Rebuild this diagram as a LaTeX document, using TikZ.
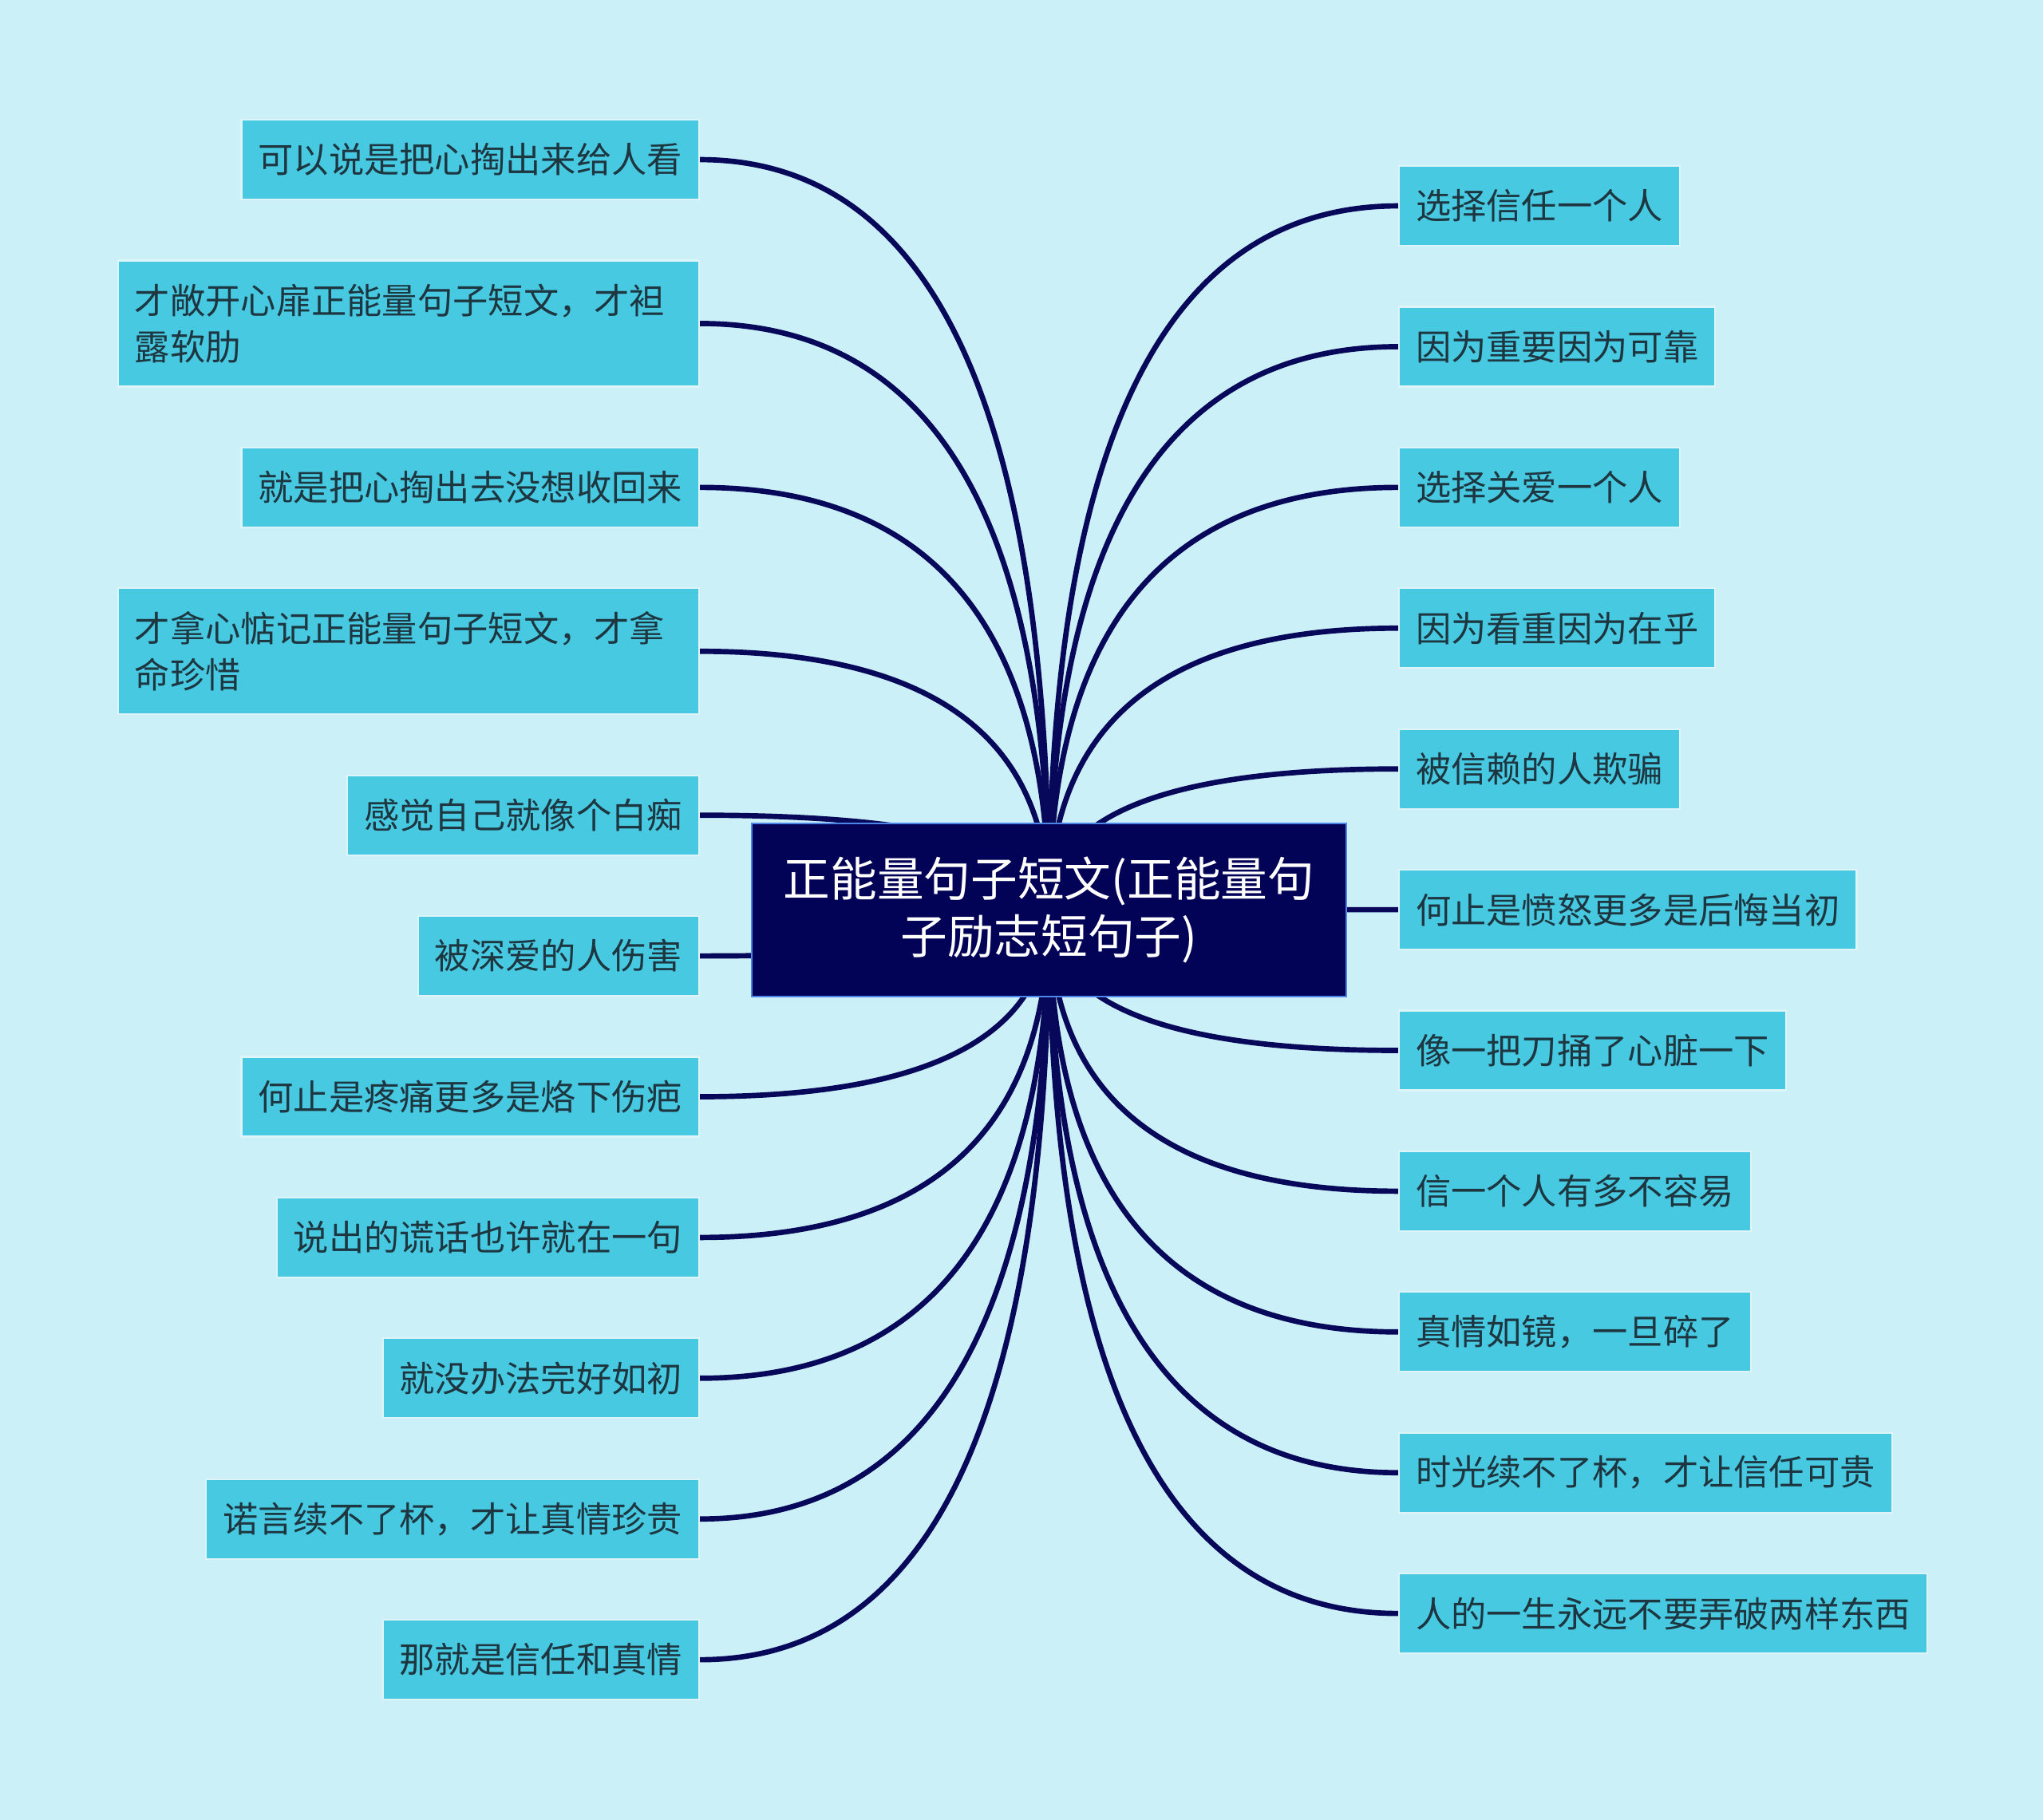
\documentclass[tikz,border=0pt]{standalone}
\usepackage{fontspec}
\usepackage{xcolor}
\usepackage{tikz}
\usetikzlibrary{positioning,calc,backgrounds}

\newfontfamily\cjkfont{Noto Sans CJK SC}

\definecolor{paleblue}{HTML}{CCF0F7}
\definecolor{leafcyan}{HTML}{48C9E2}
\definecolor{leafrim}{HTML}{DDF5F9}
\definecolor{leafink}{HTML}{1D3640}
\definecolor{rootnavy}{HTML}{020257}
\definecolor{rootrim}{HTML}{4C86E8}
\definecolor{linknavy}{HTML}{08085A}

\begin{document}
\begin{tikzpicture}[
    node distance=0.743cm and 0.4cm,
    leaf/.style={rectangle, draw=leafrim, fill=leafcyan, text=leafink, line width=0.6pt, inner xsep=0.21cm, minimum height=1cm, font=\cjkfont\fontsize{12.6pt}{16.7pt}\selectfont},
    twoline/.style={leaf, text width=6.86cm, align=left, minimum height=1.58cm},
    root/.style={rectangle, draw=rootrim, fill=rootnavy, text=white, line width=0.8pt, minimum width=7.45cm, minimum height=2.17cm, align=center, font=\cjkfont\fontsize{16.7pt}{20.7pt}\selectfont},
    link/.style={draw=linknavy, line width=1.9pt},
    branch/.style={to path={.. controls ($(\tikztostart)!0.667!(\tikztotarget |- \tikztostart)$) and ($(\tikztotarget)!0.667!(\tikztotarget |- \tikztostart)$) .. (\tikztotarget)}}
]

% Root
\node[root] (root) at (13.145,-11.405) {正能量句子短文(正能量句\\子励志短句子)};

% Left branches
\node[leaf, anchor=north east] (l1) at (8.77,-1.49) {可以说是把心掏出来给人看};
\node[twoline, below=of l1.south east, anchor=north east] (l2) {才敞开心扉正能量句子短文，才袒\\露软肋};
\node[leaf, below=of l2.south east, anchor=north east] (l3) {就是把心掏出去没想收回来};
\node[twoline, below=of l3.south east, anchor=north east] (l4) {才拿心惦记正能量句子短文，才拿\\命珍惜};
\node[leaf, below=of l4.south east, anchor=north east] (l5) {感觉自己就像个白痴};
\node[leaf, below=of l5.south east, anchor=north east] (l6) {被深爱的人伤害};
\node[leaf, below=of l6.south east, anchor=north east] (l7) {何止是疼痛更多是烙下伤疤};
\node[leaf, below=of l7.south east, anchor=north east] (l8) {说出的谎话也许就在一句};
\node[leaf, below=of l8.south east, anchor=north east] (l9) {就没办法完好如初};
\node[leaf, below=of l9.south east, anchor=north east] (l10) {诺言续不了杯，才让真情珍贵};
\node[leaf, below=of l10.south east, anchor=north east] (l11) {那就是信任和真情};

% Right branches
\node[leaf, anchor=north west] (r1) at (17.52,-2.07) {选择信任一个人};
\node[leaf, below=of r1.south west, anchor=north west] (r2) {因为重要因为可靠};
\node[leaf, below=of r2.south west, anchor=north west] (r3) {选择关爱一个人};
\node[leaf, below=of r3.south west, anchor=north west] (r4) {因为看重因为在乎};
\node[leaf, below=of r4.south west, anchor=north west] (r5) {被信赖的人欺骗};
\node[leaf, below=of r5.south west, anchor=north west] (r6) {何止是愤怒更多是后悔当初};
\node[leaf, below=of r6.south west, anchor=north west] (r7) {像一把刀捅了心脏一下};
\node[leaf, below=of r7.south west, anchor=north west] (r8) {信一个人有多不容易};
\node[leaf, below=of r8.south west, anchor=north west] (r9) {真情如镜，一旦碎了};
\node[leaf, below=of r9.south west, anchor=north west] (r10) {时光续不了杯，才让信任可贵};
\node[leaf, below=of r10.south west, anchor=north west] (r11) {人的一生永远不要弄破两样东西};

% Background and curved links
\begin{scope}[on background layer]
\path[use as bounding box, fill=paleblue] (0,0) rectangle (25.6,-22.81);
\draw[link] (l1.east) to[branch] (root.center);
\draw[link] (l2.east) to[branch] (root.center);
\draw[link] (l3.east) to[branch] (root.center);
\draw[link] (l4.east) to[branch] (root.center);
\draw[link] (l5.east) to[branch] (root.center);
\draw[link] (l6.east) to[branch] (root.center);
\draw[link] (l7.east) to[branch] (root.center);
\draw[link] (l8.east) to[branch] (root.center);
\draw[link] (l9.east) to[branch] (root.center);
\draw[link] (l10.east) to[branch] (root.center);
\draw[link] (l11.east) to[branch] (root.center);
\draw[link] (r1.west) to[branch] (root.center);
\draw[link] (r2.west) to[branch] (root.center);
\draw[link] (r3.west) to[branch] (root.center);
\draw[link] (r4.west) to[branch] (root.center);
\draw[link] (r5.west) to[branch] (root.center);
\draw[link] (r6.west) to[branch] (root.center);
\draw[link] (r7.west) to[branch] (root.center);
\draw[link] (r8.west) to[branch] (root.center);
\draw[link] (r9.west) to[branch] (root.center);
\draw[link] (r10.west) to[branch] (root.center);
\draw[link] (r11.west) to[branch] (root.center);
\end{scope}

\end{tikzpicture}
\end{document}
